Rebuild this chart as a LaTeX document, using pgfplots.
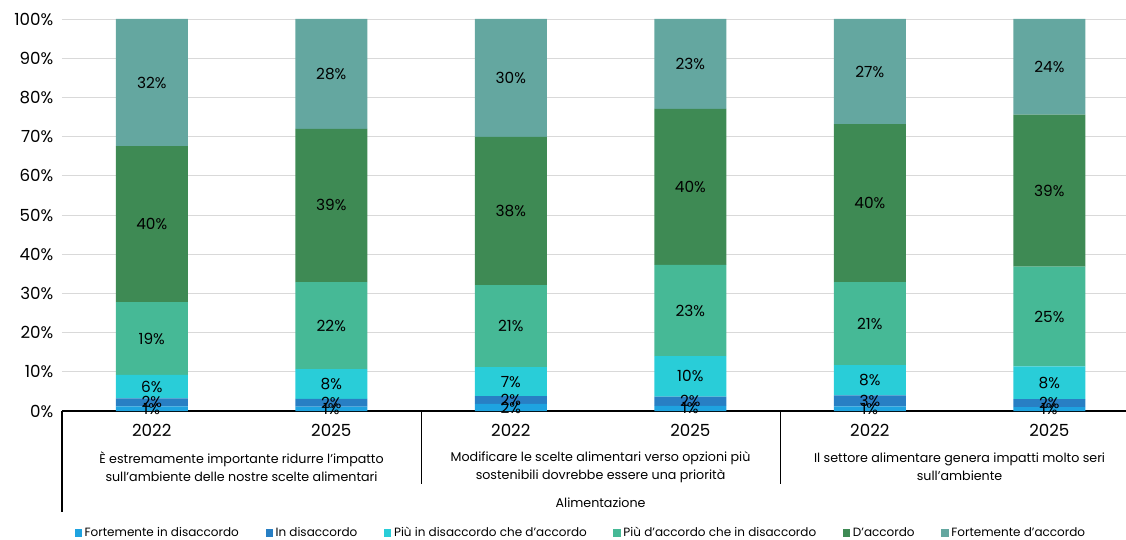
\documentclass[border=0pt]{standalone}
\usepackage{fontspec}
\setmainfont{Poppins}
\usepackage{pgfplots}
\usepackage{pgfplotstable}
\pgfplotsset{compat=1.18}
\definecolor{cFD}{RGB}{30,163,224}
\definecolor{cID}{RGB}{40,127,196}
\definecolor{cPD}{RGB}{41,205,216}
\definecolor{cPA}{RGB}{70,185,150}
\definecolor{cDA}{RGB}{62,138,84}
\definecolor{cFA}{RGB}{100,167,160}

\pgfplotstableread{
x FD ID PD PA DA FA
0 1.2 2.0 6.0 18.6 39.8 32.4
1 1.1 2.0 7.6 22.2 39.1 28.0
2 1.8 2.0 7.4 20.9 37.8 30.1
3 1.3 2.4 10.3 23.3 39.8 22.9
4 1.2 2.8 7.7 21.2 40.3 26.8
5 1.0 2.0 8.4 25.4 38.8 24.4
}\data

\pgfplotsset{
  mid/.style={
    table/x=x, table/y=#1, table/meta=#1,
  },
}

\begin{document}
\begin{tikzpicture}[font=\fontsize{9.5}{13.5}\selectfont]
\useasboundingbox (-46.5pt,-96pt) rectangle (798pt,308.25pt);
\begin{axis}[
  at={(0pt,0pt)}, anchor=south west,
  scale only axis,
  clip=false,
  width=798pt, height=294pt,
  ybar stacked,
  bar width=54pt,
  xmin=-0.5, xmax=5.427,
  ymin=0, ymax=100,
  ytick={0,10,...,100},
  yticklabel={\pgfmathprintnumber{\tick}\%},
  /pgf/number format/assume math mode=true,
  xtick={0,1,2,3,4,5},
  xticklabels={2022,2025,2022,2025,2022,2025},
  tick label style={font=\fontsize{12.5}{14}\selectfont},
  x tick label style={anchor=center, yshift=-14.25pt},
  y tick label style={xshift=-3pt},
  axis x line*=bottom,
  axis y line*=left,
  y axis line style={draw=none},
  x axis line style={black, line width=0.8pt},
  tick style={draw=none},
  ymajorgrids,
  grid style={color=black!15, line width=0.6pt},
  point meta=explicit,
  nodes near coords={\pgfmathprintnumber[fixed,precision=0]{\pgfplotspointmeta}\%},
  every node near coord/.append style={anchor=center, text=black,
    font=\fontsize{11.5}{13}\selectfont},
  legend columns=6,
  legend style={draw=none, at={(0.488,-0.311)}, anchor=center,
    /tikz/every even column/.append style={column sep=18pt},
    font=\fontsize{9}{11}\selectfont},
  legend image code/.code={\fill[#1] (0pt,-3pt) rectangle (5.5pt,3pt);},
]
\addplot[fill=cFD, draw=none, mid=FD] table {\data};
\addplot[fill=cID, draw=none, mid=ID] table {\data};
\addplot[fill=cPD, draw=none, mid=PD] table {\data};
\addplot[fill=cPA, draw=none, mid=PA] table {\data};
\addplot[fill=cDA, draw=none, mid=DA] table {\data};
\addplot[fill=cFA, draw=none, mid=FA] table {\data};
\legend{Fortemente in disaccordo, In disaccordo, Più in disaccordo che d’accordo, Più d’accordo che in disaccordo, D’accordo, Fortemente d’accordo}

\draw[black, line width=0.8pt] (axis cs:-0.5,0) -- ++(0pt,-75.75pt);
\draw[black, line width=0.8pt] (axis cs:1.5,0) -- ++(0pt,-54.75pt);
\draw[black, line width=0.8pt] (axis cs:3.5,0) -- ++(0pt,-54.75pt);
\node[align=center] at ([yshift=-42pt]axis cs:0.5,0) {È estremamente importante ridurre l’impatto\\sull’ambiente delle nostre scelte alimentari};
\node[align=center] at ([yshift=-42pt]axis cs:2.5,0) {Modificare le scelte alimentari verso opzioni più\\sostenibili dovrebbe essere una priorità};
\node[align=center] at ([yshift=-42pt]axis cs:4.5,0) {Il settore alimentare genera impatti molto seri\\sull’ambiente};
\node at ([yshift=-69pt]axis cs:2.5,0) {Alimentazione};
\end{axis}
\end{tikzpicture}
\end{document}
